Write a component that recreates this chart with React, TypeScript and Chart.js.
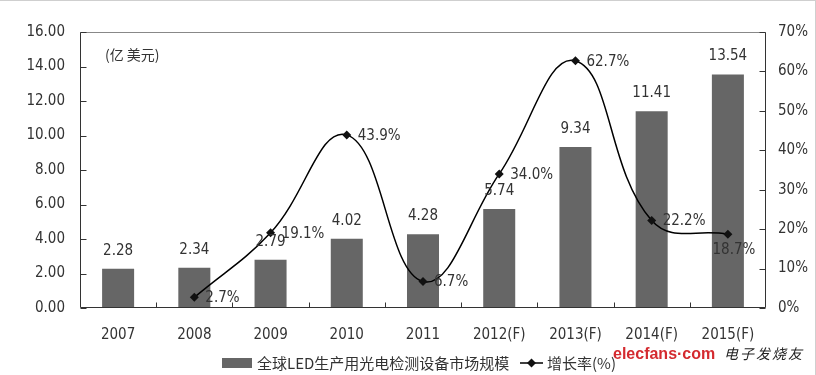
import { useEffect, useRef } from 'react';
import { Chart, registerables } from 'chart.js';

Chart.register(...registerables);

const categories = ['2007', '2008', '2009', '2010', '2011', '2012(F)', '2013(F)', '2014(F)', '2015(F)'];
const marketSize = [2.28, 2.34, 2.79, 4.02, 4.28, 5.74, 9.34, 11.41, 13.54];
const growthRate = [null, 2.7, 19.1, 43.9, 6.7, 34.0, 62.7, 22.2, 18.7];
const leftTickMax = 16;
const leftTickStep = 2;
const rightTickMax = 70;
const rightTickStep = 10;
const barLegend = '全球LED生产用光电检测设备市场规模';
const lineLegend = '增长率(%)';
const unitLabel = '(亿 美元)';
const watermarkEn = 'elecfans·com';
const watermarkCn = '电子发烧友';

const LATIN = "'Liberation Sans Narrow', 'DejaVu Sans Condensed', 'Liberation Sans', sans-serif";
const CJK = "'Noto Sans CJK SC', 'Noto Sans', sans-serif";
const TEXT = '#333';
const BAR = '#666666';

const decor = {
  id: 'decor',
  afterDatasetsDraw(chart: any) {
    const { ctx, chartArea: a, scales } = chart;
    const xs = scales.x, ys = scales.y, y1 = scales.y1;
    ctx.save();
    // plot frame
    ctx.strokeStyle = '#333';
    ctx.lineWidth = 1;
    const L = Math.round(a.left) + 0.5, T = Math.round(a.top) + 0.5;
    const R = Math.round(a.right) - 0.5, B = Math.round(a.bottom) - 0.5;
    ctx.strokeStyle = '#888';
    ctx.beginPath(); ctx.moveTo(L, T); ctx.lineTo(R, T); ctx.stroke();
    ctx.strokeStyle = '#333';
    ctx.beginPath(); ctx.moveTo(L, T); ctx.lineTo(L, B); ctx.lineTo(R, B); ctx.lineTo(R, T); ctx.stroke();
    // inner tick marks
    ctx.beginPath();
    ys.ticks.forEach((t: any) => {
      const py = Math.round(ys.getPixelForValue(t.value)) + 0.5;
      ctx.moveTo(L, py); ctx.lineTo(L + 6, py);
    });
    y1.ticks.forEach((t: any) => {
      const py = Math.round(y1.getPixelForValue(t.value)) + 0.5;
      ctx.moveTo(R, py); ctx.lineTo(R - 6, py);
    });
    for (let i = 1; i < categories.length; i++) {
      const px = Math.round((xs.getPixelForValue(i - 1) + xs.getPixelForValue(i)) / 2) + 0.5;
      ctx.moveTo(px, B); ctx.lineTo(px, B - 5);
    }
    ctx.stroke();

    // bar value labels
    ctx.fillStyle = TEXT;
    ctx.font = `15px ${LATIN}`;
    ctx.textAlign = 'center';
    ctx.textBaseline = 'middle';
    const barMeta = chart.getDatasetMeta(0);
    barMeta.data.forEach((el: any, i: number) => {
      ctx.fillText(marketSize[i].toFixed(2), el.x, el.y - 18);
    });
    // line value labels
    const lineMeta = chart.getDatasetMeta(1);
    lineMeta.data.forEach((el: any, i: number) => {
      const v = growthRate[i];
      if (v == null) return;
      const txt = v.toFixed(1) + '%';
      if (i === categories.length - 1) {
        ctx.textAlign = 'center';
        ctx.fillText(txt, el.x + 6, el.y + 16);
      } else {
        ctx.textAlign = 'left';
        ctx.fillText(txt, el.x + 11, el.y + 1);
      }
    });

    // unit label
    ctx.font = `14px ${CJK}`;
    ctx.textAlign = 'left';
    ctx.fillText(unitLabel, a.left + 25, a.top + 23);

    // legend
    const ly = 363;
    ctx.fillStyle = BAR;
    ctx.fillRect(222, ly - 5, 30, 10);
    ctx.fillStyle = TEXT;
    ctx.font = `15px ${CJK}`;
    ctx.textAlign = 'left';
    ctx.fillText(barLegend, 257, ly);
    ctx.strokeStyle = '#000';
    ctx.lineWidth = 1.5;
    ctx.beginPath(); ctx.moveTo(520, ly); ctx.lineTo(543, ly); ctx.stroke();
    ctx.fillStyle = '#111';
    ctx.beginPath();
    ctx.moveTo(531.5, ly - 4.5); ctx.lineTo(536, ly); ctx.lineTo(531.5, ly + 4.5); ctx.lineTo(527, ly); ctx.closePath();
    ctx.fill();
    ctx.fillStyle = TEXT;
    ctx.fillText(lineLegend, 547, ly);

    // watermark
    ctx.fillStyle = '#d42a2f';
    ctx.font = `bold 16px 'Liberation Sans', sans-serif`;
    ctx.textBaseline = 'alphabetic';
    ctx.fillText(watermarkEn, 613, 359);
    ctx.fillStyle = '#222';
    ctx.font = `italic 14px ${CJK}`;
    ctx.textBaseline = 'middle';
    [...watermarkCn].forEach((ch, i) => ctx.fillText(ch, 724 + i * 16, 354));

    ctx.restore();
  },
  afterDraw(chart: any) {
    const { ctx, width, height } = chart;
    ctx.save();
    ctx.strokeStyle = '#cfcfcf';
    ctx.lineWidth = 1;
    ctx.beginPath();
    ctx.moveTo(0, 0.5); ctx.lineTo(width, 0.5);
    ctx.moveTo(width - 0.5, 0); ctx.lineTo(width - 0.5, height);
    ctx.stroke();
    ctx.restore();
  },
};

export default function App() {
  const ref = useRef<HTMLCanvasElement | null>(null);
  useEffect(() => {
    if (!ref.current) return;
    const chart = new Chart(ref.current, {
      type: 'bar',
      data: {
        labels: categories,
        datasets: [
          {
            type: 'bar',
            label: barLegend,
            data: marketSize,
            backgroundColor: BAR,
            borderWidth: 0,
            barPercentage: 0.42,
            categoryPercentage: 1,
            yAxisID: 'y',
            order: 1,
          } as any,
          {
            type: 'line',
            label: lineLegend,
            data: growthRate,
            borderColor: '#000',
            borderWidth: 1.5,
            pointStyle: 'rectRot',
            pointRadius: 4.5,
            pointBackgroundColor: '#111',
            pointBorderColor: '#111',
            pointBorderWidth: 0,
            tension: 0.42,
            spanGaps: true,
            yAxisID: 'y1',
            order: 0,
          } as any,
        ],
      },
      options: {
        responsive: false,
        animation: false,
        devicePixelRatio: 1,
        layout: { padding: { top: 32, left: 0, right: 0, bottom: 0 } },
        plugins: { legend: { display: false }, tooltip: { enabled: false } },
        scales: {
          x: {
            grid: { display: false, drawTicks: false },
            border: { display: false },
            ticks: { color: TEXT, font: { family: LATIN, size: 15 }, padding: 18, maxRotation: 0, autoSkip: false },
            afterFit: (s: any) => { s.height = 67; },
          },
          y: {
            position: 'left',
            min: 0,
            max: leftTickMax,
            grid: { display: false, drawTicks: false },
            border: { display: false },
            ticks: {
              stepSize: leftTickStep,
              color: TEXT,
              font: { family: LATIN, size: 15 },
              padding: 15,
              callback: (v: any) => Number(v).toFixed(2),
            },
            afterFit: (s: any) => { s.width = 80; },
          },
          y1: {
            position: 'right',
            min: 0,
            max: rightTickMax,
            grid: { display: false, drawTicks: false },
            border: { display: false },
            ticks: {
              stepSize: rightTickStep,
              color: TEXT,
              font: { family: LATIN, size: 15 },
              padding: 12,
              callback: (v: any) => `${v}%`,
            },
            afterFit: (s: any) => { s.width = 50; },
          },
        },
      },
      plugins: [decor],
    });
    return () => chart.destroy();
  }, []);
  return (
    <div style={{ position: 'fixed', left: 0, top: 0, width: 816, height: 375, background: '#fff' }}>
      <canvas ref={ref} width={816} height={375} style={{ display: 'block' }} />
    </div>
  );
}
